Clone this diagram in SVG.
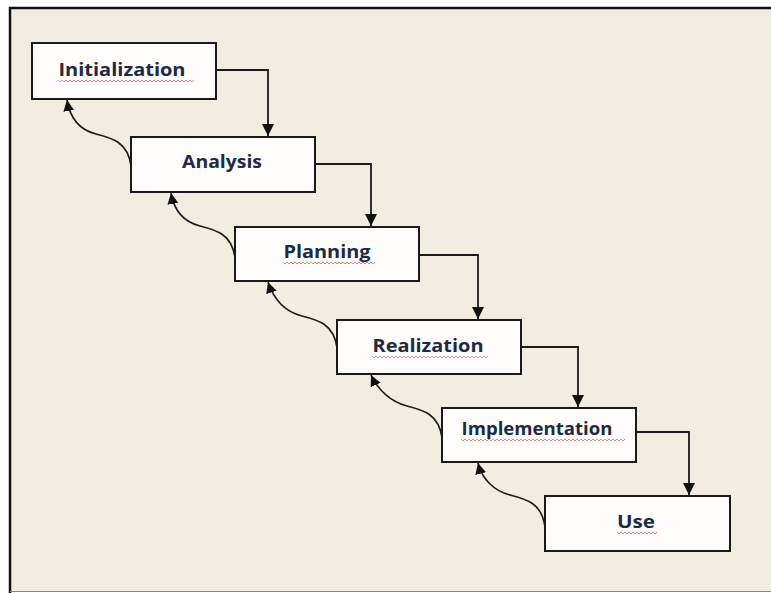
<svg xmlns="http://www.w3.org/2000/svg" width="771" height="593" viewBox="0 0 771 593">
  <defs>
    <marker id="arrow" viewBox="0 0 10 10" refX="10" refY="5" markerWidth="12" markerHeight="12" orient="auto-start-reverse" markerUnits="userSpaceOnUse">
      <path d="M0,0 L10,5 L0,10 z" fill="#111"/>
    </marker>
    <marker id="arrow-back" viewBox="0 0 10 10" refX="10" refY="5" markerWidth="11" markerHeight="11" orient="auto-start-reverse" markerUnits="userSpaceOnUse">
      <path d="M0,0 L10,5 L0,10 z" fill="#111"/>
    </marker>
    <style>
      .frame-bg { fill: #f1eee1; }
      .box { fill: #fffdfb; stroke: #1a1a1a; stroke-width: 2; }
      .label { font-family: "Open Sans", Lato, sans-serif; font-weight: bold; font-size: 18px; fill: #1d2a45; text-anchor: middle; }
      .flow { fill: none; stroke: #1a1a1a; stroke-width: 1.8; marker-end: url(#arrow); }
      .back { fill: none; stroke: #1a1a1a; stroke-width: 1.6; marker-end: url(#arrow-back); }
      .squiggle { fill: none; stroke: #d9534f; stroke-width: 0.9; opacity: 0.75; }
    </style>
  </defs>

  <!-- page and frame -->
  <rect x="0" y="0" width="771" height="593" fill="#ffffff"/>
  <rect class="frame-bg" x="10" y="8" width="761" height="583"/>
  <line x1="9" y1="8" x2="771" y2="8" stroke="#111" stroke-width="2.5"/>
  <line x1="10" y1="7" x2="10" y2="593" stroke="#111" stroke-width="2.5"/>
  <line x1="10" y1="591.5" x2="771" y2="591.5" stroke="#a87a6a" stroke-width="1.2"/>

  <!-- connectors -->
  <g id="connectors">
    <path class="flow" d="M216,70 H268 V136"/>
    <path class="flow" d="M315,164 H371 V226"/>
    <path class="flow" d="M419,255 H478 V319"/>
    <path class="flow" d="M521,347 H578 V407"/>
    <path class="flow" d="M636,432 H689 V495"/>

    <path class="back" d="M131,166 C128,142 112,138 96,134 C80,130 70,118 67,100"/>
    <path class="back" d="M235,258 C232,234 216,230 200,226 C184,222 174,210 171,193"/>
    <path class="back" d="M337,348 C334,324 318,320 302,316 C286,312 274,300 268,282"/>
    <path class="back" d="M442,438 C439,414 423,410 407,406 C391,402 378,390 371,375"/>
    <path class="back" d="M545,527 C542,503 526,499 510,495 C494,491 482,479 478,463"/>
  </g>

  <g id="initialization">
    <rect class="box" x="32" y="43" width="184" height="56"/>
    <text class="label" x="122" y="76" textLength="127" lengthAdjust="spacingAndGlyphs">Initialization</text>
    <path class="squiggle" d="M58,80 l2,2 l2,-2 l2,2 l2,-2 l2,2 l2,-2 l2,2 l2,-2 l2,2 l2,-2 l2,2 l2,-2 l2,2 l2,-2 l2,2 l2,-2 l2,2 l2,-2 l2,2 l2,-2 l2,2 l2,-2 l2,2 l2,-2 l2,2 l2,-2 l2,2 l2,-2 l2,2 l2,-2 l2,2 l2,-2 l2,2 l2,-2 l2,2 l2,-2 l2,2 l2,-2 l2,2 l2,-2 l2,2 l2,-2 l2,2 l2,-2 l2,2 l2,-2 l2,2 l2,-2 l2,2 l2,-2 l2,2 l2,-2 l2,2 l2,-2 l2,2 l2,-2 l2,2 l2,-2 l2,2 l2,-2 l2,2 l2,-2 l2,2 l2,-2 l2,2 l2,-2 l2,2 l2,-2"/>
  </g>

  <g id="analysis">
    <rect class="box" x="131" y="137" width="184" height="55"/>
    <text class="label" x="222" y="168" textLength="80" lengthAdjust="spacingAndGlyphs">Analysis</text>
  </g>

  <g id="planning">
    <rect class="box" x="235" y="227" width="184" height="54"/>
    <text class="label" x="327" y="258" textLength="87" lengthAdjust="spacingAndGlyphs">Planning</text>
    <path class="squiggle" d="M283,262 l2,2 l2,-2 l2,2 l2,-2 l2,2 l2,-2 l2,2 l2,-2 l2,2 l2,-2 l2,2 l2,-2 l2,2 l2,-2 l2,2 l2,-2 l2,2 l2,-2 l2,2 l2,-2 l2,2 l2,-2 l2,2 l2,-2 l2,2 l2,-2 l2,2 l2,-2 l2,2 l2,-2 l2,2 l2,-2 l2,2 l2,-2 l2,2 l2,-2 l2,2 l2,-2 l2,2 l2,-2 l2,2 l2,-2 l2,2 l2,-2 l2,2 l2,-2"/>
  </g>

  <g id="realization">
    <rect class="box" x="337" y="320" width="184" height="54"/>
    <text class="label" x="428" y="352" textLength="111" lengthAdjust="spacingAndGlyphs">Realization</text>
    <path class="squiggle" d="M372,356 l2,2 l2,-2 l2,2 l2,-2 l2,2 l2,-2 l2,2 l2,-2 l2,2 l2,-2 l2,2 l2,-2 l2,2 l2,-2 l2,2 l2,-2 l2,2 l2,-2 l2,2 l2,-2 l2,2 l2,-2 l2,2 l2,-2 l2,2 l2,-2 l2,2 l2,-2 l2,2 l2,-2 l2,2 l2,-2 l2,2 l2,-2 l2,2 l2,-2 l2,2 l2,-2 l2,2 l2,-2 l2,2 l2,-2 l2,2 l2,-2 l2,2 l2,-2 l2,2 l2,-2 l2,2 l2,-2 l2,2 l2,-2 l2,2 l2,-2 l2,2 l2,-2 l2,2 l2,-2"/>
  </g>

  <g id="implementation">
    <rect class="box" x="442" y="408" width="194" height="54"/>
    <text class="label" x="537" y="435" textLength="151" lengthAdjust="spacingAndGlyphs">Implementation</text>
    <path class="squiggle" d="M461,439 l2,2 l2,-2 l2,2 l2,-2 l2,2 l2,-2 l2,2 l2,-2 l2,2 l2,-2 l2,2 l2,-2 l2,2 l2,-2 l2,2 l2,-2 l2,2 l2,-2 l2,2 l2,-2 l2,2 l2,-2 l2,2 l2,-2 l2,2 l2,-2 l2,2 l2,-2 l2,2 l2,-2 l2,2 l2,-2 l2,2 l2,-2 l2,2 l2,-2 l2,2 l2,-2 l2,2 l2,-2 l2,2 l2,-2 l2,2 l2,-2 l2,2 l2,-2 l2,2 l2,-2 l2,2 l2,-2 l2,2 l2,-2 l2,2 l2,-2 l2,2 l2,-2 l2,2 l2,-2 l2,2 l2,-2 l2,2 l2,-2 l2,2 l2,-2 l2,2 l2,-2 l2,2 l2,-2 l2,2 l2,-2 l2,2 l2,-2 l2,2 l2,-2 l2,2 l2,-2 l2,2 l2,-2 l2,2 l2,-2 l2,2 l2,-2"/>
  </g>

  <g id="use">
    <rect class="box" x="545" y="496" width="185" height="55"/>
    <text class="label" x="636" y="528" textLength="38" lengthAdjust="spacingAndGlyphs">Use</text>
    <path class="squiggle" d="M617,532 l2,2 l2,-2 l2,2 l2,-2 l2,2 l2,-2 l2,2 l2,-2 l2,2 l2,-2 l2,2 l2,-2 l2,2 l2,-2 l2,2 l2,-2 l2,2 l2,-2 l2,2 l2,-2"/>
  </g>
</svg>
